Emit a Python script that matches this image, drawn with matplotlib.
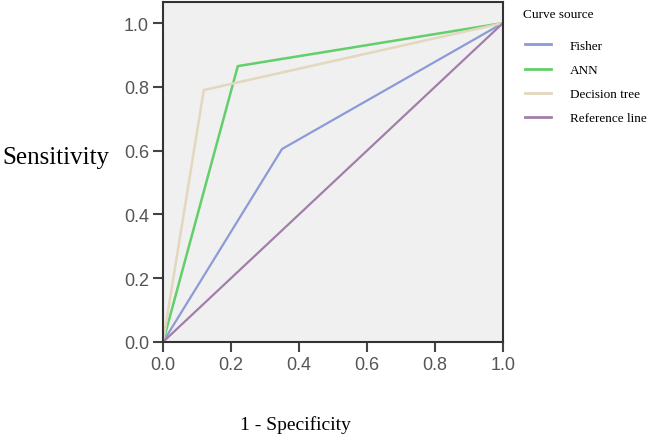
import matplotlib
matplotlib.use("Agg")
import matplotlib.pyplot as plt
from matplotlib.lines import Line2D

# ROC curves
fisher_x = [0.0, 0.35, 1.0]
fisher_y = [0.0, 0.605, 1.0]
ann_x = [0.0, 0.22, 1.0]
ann_y = [0.0, 0.865, 1.0]
tree_x = [0.0, 0.12, 1.0]
tree_y = [0.0, 0.79, 1.0]
ref_x = [0.0, 1.0]
ref_y = [0.0, 1.0]

names = ["Fisher", "ANN", "Decision tree", "Reference line"]
colors = ["#8c9bd8", "#62cf6b", "#e3d8be", "#a27fab"]
ticks = [0.0, 0.2, 0.4, 0.6, 0.8, 1.0]

fig = plt.figure(figsize=(6.5, 4.39), dpi=100)
ax = fig.add_axes([163/650, 1 - 343/439, 340/650, 340/439])
ax.set_facecolor("#f0f0f0")

ax.plot(fisher_x, fisher_y, color=colors[0], lw=1.6)
ax.plot(ann_x, ann_y, color=colors[1], lw=1.8)
ax.plot(tree_x, tree_y, color=colors[2], lw=1.8)
ax.plot(ref_x, ref_y, color=colors[3], lw=1.6)

ax.set_xlim(0, 1)
ax.set_ylim(0, 1.066)
ax.set_xticks(ticks)
ax.set_yticks(ticks)
ax.set_xticklabels(["%.1f" % t for t in ticks])
ax.set_yticklabels(["%.1f" % t for t in ticks])
ax.tick_params(direction="out", length=7, width=1.5, color="#444",
               labelsize=13, labelcolor="#555", pad=3)
for lab in ax.get_xticklabels() + ax.get_yticklabels():
    lab.set_family("Liberation Sans")
for s in ax.spines.values():
    s.set_color("#333")
    s.set_linewidth(1.5)

serif = "Liberation Serif"
fig.text(2/650, 1 - 158/439, "Sensitivity", family=serif, fontsize=18,
         ha="left", va="center")
fig.text(295/650, 1 - 425/439, "1 - Specificity", family=serif, fontsize=14,
         ha="center", va="center")

# legend title placed by hand, entries below it
fig.text(523/650, 1 - 15/439, "Curve source", family=serif, fontsize=9.5,
         ha="left", va="center")
handles = [Line2D([], [], color=c, lw=2) for c in colors]
leg = fig.legend(handles, names, loc="upper left",
                 bbox_to_anchor=(513/650, 1 - 29/439), frameon=False,
                 prop={"family": serif, "size": 9.5}, handlelength=2.0,
                 handletextpad=1.4, labelspacing=0.9)

fig.savefig("out.png", dpi=100)
